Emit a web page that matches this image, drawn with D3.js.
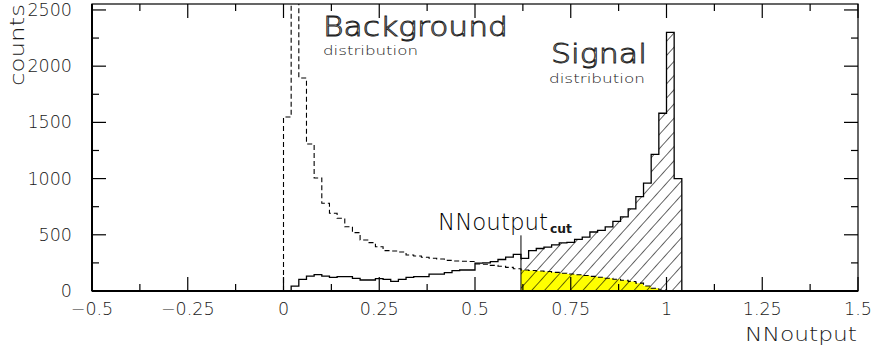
<!DOCTYPE html>
<html>
<head>
<meta charset="utf-8">
<script src="https://cdn.jsdelivr.net/npm/d3@7"></script>
<style>
  body { margin: 0; background: #fff; }
  svg text { font-family: "DejaVu Sans", sans-serif; fill: #1a1a1a; font-weight: 200; }
</style>
</head>
<body>
<div id="chart"></div>
<script>
// histogram bins: 0.02 wide
const binWidth = 0.02;
const bgStart = 0;      // background histogram starts at 0
const sigStart = 0.02;  // signal histogram starts at 0.02
const cutValue = 0.62;  // NNoutput cut

const bgCounts = [1548, 4000, 1895, 1308, 1005, 780, 691, 647, 572, 519,
  454, 430, 394, 359, 356, 347, 320, 311, 300, 291,
  285, 272, 267, 265, 262, 240, 238, 228, 220, 210,
  198, 187, 183, 178, 173, 166, 158, 151, 145, 138,
  130, 122, 113, 105, 96, 85, 70, 45, 25, 8];

const sigCounts = [44, 104, 133, 145, 133, 122, 127, 127, 113, 98,
  98, 110, 104, 86, 104, 122, 128, 128, 151, 151,
  163, 181, 187, 187, 248, 250, 261, 280, 302, 325,
  290, 360, 378, 390, 410, 428, 432, 460, 480, 525,
  540, 570, 620, 660, 730, 840, 960, 1216, 1581, 2300, 1000];

const xTicks = [-0.5, -0.25, 0, 0.25, 0.5, 0.75, 1, 1.25, 1.5];
const xTickLabels = ["\u22120.5", "\u22120.25", "0", "0.25", "0.5", "0.75", "1", "1.25", "1.5"];
const yTicks = [0, 500, 1000, 1500, 2000, 2500];
const yTickLabels = ["0", "500", "1000", "1500", "2000", "2500"];

const width = 875, height = 358;
const m = { left: 92, right: 858, top: 4, bottom: 291 };

const svg = d3.select('#chart').append('svg')
  .attr('width', width)
  .attr('height', height);

const x = d3.scaleLinear().domain([-0.5, 1.5]).range([m.left, m.right]);
const y = d3.scaleLinear().domain([0, 2553]).range([m.bottom, m.top]);

// turn bin counts into step points
function steps(start, counts) {
  const pts = [[start, 0]];
  counts.forEach((c, i) => {
    pts.push([start + i * binWidth, c]);
    pts.push([start + (i + 1) * binWidth, c]);
  });
  pts.push([start + counts.length * binWidth, 0]);
  return pts;
}

const line = d3.line().x(d => x(d[0])).y(d => y(d[1]));

const defs = svg.append('defs');
defs.append('clipPath').attr('id', 'plot')
  .append('rect')
  .attr('x', m.left).attr('y', m.top)
  .attr('width', m.right - m.left).attr('height', m.bottom - m.top);

const hatch = defs.append('pattern')
  .attr('id', 'hatch')
  .attr('patternUnits', 'userSpaceOnUse')
  .attr('width', 9.5).attr('height', 10)
  .attr('patternTransform', 'rotate(42)');
hatch.append('line')
  .attr('x1', 0).attr('y1', -1).attr('x2', 0).attr('y2', 11)
  .attr('stroke', '#000').attr('stroke-width', 1.2);

const g = svg.append('g').attr('clip-path', 'url(#plot)');

// background after the cut, yellow
const bgCutIdx = Math.round((cutValue - bgStart) / binWidth);
g.append('path')
  .attr('d', line(steps(cutValue, bgCounts.slice(bgCutIdx))) + 'Z')
  .attr('fill', '#ffff00')
  .attr('stroke', 'none');

// signal after the cut, hatched
const sigCutIdx = Math.round((cutValue - sigStart) / binWidth);
g.append('path')
  .attr('d', line(steps(cutValue, sigCounts.slice(sigCutIdx))) + 'Z')
  .attr('fill', 'url(#hatch)')
  .attr('stroke', 'none');

// signal outline
g.append('path')
  .attr('d', line(steps(sigStart, sigCounts)))
  .attr('fill', 'none')
  .attr('stroke', '#000')
  .attr('stroke-width', 1.3);

// background outline, dashed
g.append('path')
  .attr('d', line(steps(bgStart, bgCounts)))
  .attr('fill', 'none')
  .attr('stroke', '#000')
  .attr('stroke-width', 1.1)
  .attr('stroke-dasharray', '5,3');

// cut line
g.append('line')
  .attr('x1', x(cutValue)).attr('x2', x(cutValue))
  .attr('y1', y(0)).attr('y2', y(495))
  .attr('stroke', '#000').attr('stroke-width', 1);

// frame
svg.append('rect')
  .attr('x', m.left).attr('y', m.top)
  .attr('width', m.right - m.left).attr('height', m.bottom - m.top)
  .attr('fill', 'none').attr('stroke', '#000').attr('stroke-width', 1.2);
svg.append('line').attr('x1', m.left).attr('x2', m.left).attr('y1', m.top).attr('y2', m.bottom)
  .attr('stroke', '#000').attr('stroke-width', 2);
svg.append('line').attr('x1', m.left).attr('x2', m.right).attr('y1', m.bottom).attr('y2', m.bottom)
  .attr('stroke', '#000').attr('stroke-width', 2);

// ticks on all four sides, pointing inward
const major = 14, minor = 7;
const xMinor = d3.range(-0.5, 1.5001, 0.125);
const yMinor = d3.range(0, 2501, 250);
const tickG = svg.append('g').attr('stroke', '#000').attr('stroke-width', 1.2);
xMinor.forEach(v => {
  const len = Math.abs(v / 0.25 - Math.round(v / 0.25)) < 1e-6 ? major : minor;
  tickG.append('line').attr('x1', x(v)).attr('x2', x(v)).attr('y1', m.bottom).attr('y2', m.bottom - len);
  tickG.append('line').attr('x1', x(v)).attr('x2', x(v)).attr('y1', m.top).attr('y2', m.top + len);
});
yMinor.forEach(v => {
  const len = v % 500 === 0 ? major : minor;
  tickG.append('line').attr('x1', m.left).attr('x2', m.left + len).attr('y1', y(v)).attr('y2', y(v));
  tickG.append('line').attr('x1', m.right).attr('x2', m.right - len).attr('y1', y(v)).attr('y2', y(v));
});

// tick labels
svg.selectAll('.xlab').data(xTicks).enter().append('text')
  .attr('x', d => x(d)).attr('y', 315)
  .attr('text-anchor', 'middle')
  .attr('font-size', 17.5)
  .text((d, i) => xTickLabels[i]);

svg.selectAll('.ylab').data(yTicks).enter().append('text')
  .attr('x', 72).attr('y', d => y(d) + 6)
  .attr('text-anchor', 'end')
  .attr('font-size', 17.5)
  .text((d, i) => yTickLabels[i]);

// axis titles
svg.append('text')
  .attr('x', 857).attr('y', 341)
  .attr('text-anchor', 'end')
  .attr('font-size', 20)
  .attr('textLength', 112).attr('lengthAdjust', 'spacingAndGlyphs')
  .text('NNoutput');

svg.append('text')
  .attr('transform', 'translate(24,86) rotate(-90)')
  .attr('font-size', 20)
  .attr('textLength', 82).attr('lengthAdjust', 'spacingAndGlyphs')
  .text('counts');

// annotations
function label(tx, ty, size, txt, len, hollow, weight) {
  const t = svg.append('text')
    .attr('x', tx).attr('y', ty)
    .attr('font-size', size)
    .attr('textLength', len).attr('lengthAdjust', 'spacingAndGlyphs')
    .text(txt);
  if (hollow) t.style('fill', '#fff').attr('stroke', '#222').attr('stroke-width', 0.9);
  if (weight) t.style('font-weight', weight);
  return t;
}
label(323, 36, 27, 'Background', 185, true);
label(323, 55, 13, 'distribution', 95);
label(551, 63, 27, 'Signal', 96, true);
label(549, 83, 13, 'distribution', 96);
label(438, 230, 23, 'NNoutput', 110).style('fill', '#000');
label(550, 233, 13, 'cut', 22, false, 'bold');
</script>
</body>
</html>
